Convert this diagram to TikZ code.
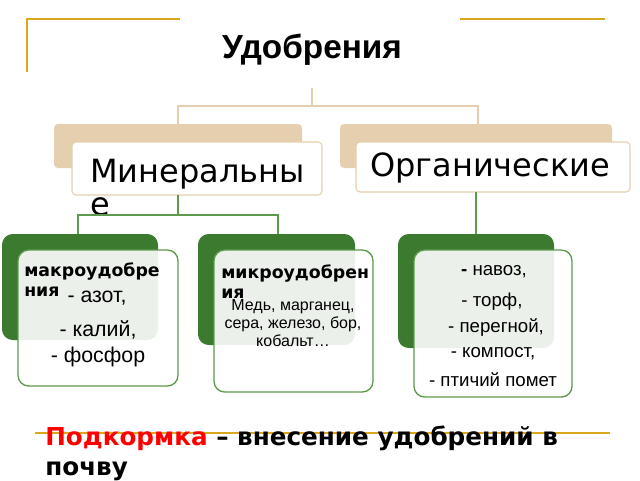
\documentclass[tikz,border=0pt]{standalone}
\usepackage{fontspec}
\setmainfont{Liberation Sans}
\newfontfamily\dejavu{DejaVu Sans}
\usetikzlibrary{positioning}
\definecolor{gold}{HTML}{D9A81C}
\definecolor{tan}{HTML}{E6CFAE}
\definecolor{leaf}{HTML}{3C7A2F}
\definecolor{leaflight}{HTML}{5E9A4E}
\begin{document}
\begin{tikzpicture}
  [
    x = 0.75pt, y = -0.75pt,
    goldline/.style = {gold, line width = 1.2pt},
    tanline/.style = {tan, line width = 1pt},
    greenline/.style = {leaflight, line width = 1pt},
    tanback/.style = {fill = tan, rounded corners = 3pt},
    tanfront/.style = {draw = tan, fill = white, rounded corners = 3pt, line width = 0.8pt},
    greenback/.style = {fill = leaf, rounded corners = 8pt},
    greenfront/.style = {draw = leaflight, fill = white, fill opacity = 0.9, draw opacity = 1,
                         rounded corners = 8pt, line width = 1pt},
    item/.style = {font = \fontsize{16}{19}\selectfont, inner sep = 0pt},
    orgitem/.style = {font = \fontsize{14}{17}\selectfont, inner sep = 0pt},
    small/.style = {font = \fontsize{12}{13.5}\selectfont, align = center, inner sep = 0pt},
    headword/.style = {font = \dejavu\bfseries\fontsize{13}{15}\selectfont, align = left,
                       anchor = north west, inner sep = 0pt},
  ]
  \useasboundingbox (0,0) rectangle (640,480);

  % frame lines
  \draw[goldline] (27,72) -- (27,19) -- (180,19);
  \draw[goldline] (460,19) -- (605,19);
  \draw[goldline] (35,433) -- (610,433);

  % title
  \fill[white] (200,18) rectangle (440,85);
  \node[font = \bfseries\fontsize{25}{30}\selectfont] (title) at (312,50) {Удобрения};

  % tan level
  \draw[tanline] (312,88) -- (312,106);
  \draw[tanline] (178,124) -- (178,106) -- (478,106) -- (478,124);
  \fill[tanback] (54,124) rectangle (302,168);
  \fill[tanback] (340,124) rectangle (612,168);
  \draw[tanfront] (72,142) rectangle (322,195);
  \draw[tanfront] (356,142) rectangle (630,192);
  \node[font = \dejavu\fontsize{24}{28}\selectfont, anchor = west, inner sep = 0pt]
    (mineral) at (90,174) {Минеральны};
  \node[font = \dejavu\fontsize{24}{28}\selectfont, anchor = west, inner sep = 0pt]
    (mineral2) at (90,207) {е};
  \node[font = \dejavu\fontsize{24}{28}\selectfont, inner sep = 0pt]
    (organic) at (490,168) {Органические};

  % green connectors
  \draw[greenline] (178,195) -- (178,215);
  \draw[greenline] (78,235) -- (78,215) -- (278,215) -- (278,235);
  \draw[greenline] (476,192) -- (476,235);

  % green boxes
  \fill[greenback] (2,234) rectangle (158,340);
  \fill[greenback] (198,234) rectangle (355,345);
  \fill[greenback] (398,234) rectangle (554,348);
  \draw[greenfront] (18,250) rectangle (178,386);
  \draw[greenfront] (214,250) rectangle (373,392);
  \draw[greenfront] (414,250) rectangle (572,397);

  % macro
  \node[headword] (macro) at (24,262) {макроудобре\\ния};
  \node[item] (azot) at (97,298) {- азот,};
  \node[item] (kaliy) at (98,330) {- калий,};
  \node[item] (fosfor) at (98,357) {- фосфор};

  % micro
  \node[headword] (micro) at (221,264) {микроудобрен\\ия};
  \node[small] (metals) at (293,323) {Медь, марганец,\\сера, железо, бор,\\кобальт…};

  % organic items
  \node[orgitem] (navoz) at (494,272) {\textbf{-} навоз,};
  \node[orgitem] (torf) at (492,302) {- торф,};
  \node[orgitem] (peregnoy) at (496,328) {- перегной,};
  \node[orgitem] (kompost) at (493,354) {- компост,};
  \node[orgitem] (pomet) at (493,380) {- птичий помет};

  % definition
  \node[font = \dejavu\bfseries\fontsize{18.5}{22}\selectfont, align = left,
        anchor = north west, inner sep = 0pt] (podkormka) at (45,426)
    {\textcolor{red}{Подкормка} – внесение удобрений в\\почву};
\end{tikzpicture}
\end{document}
